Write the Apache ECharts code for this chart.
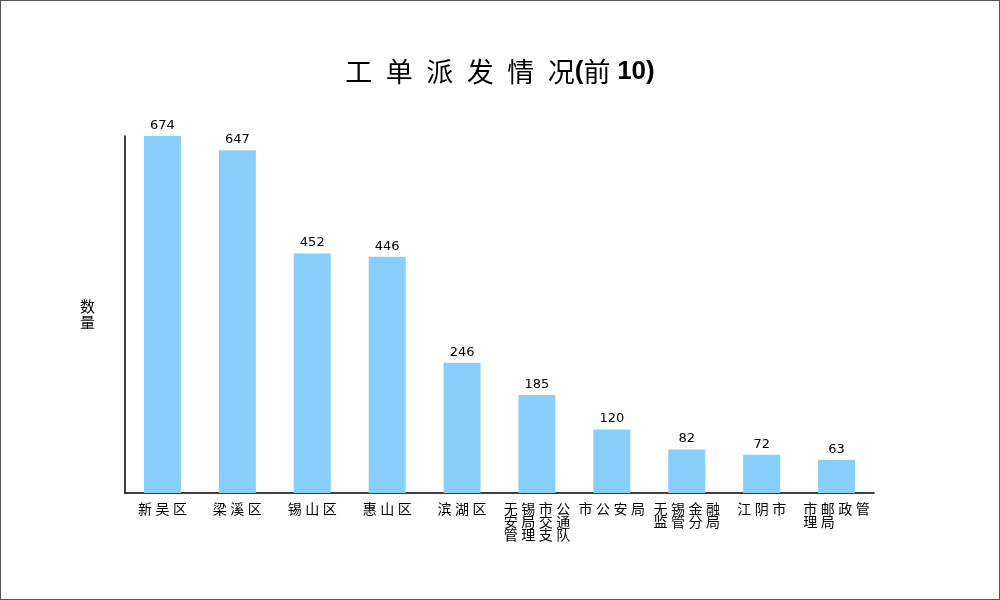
<!DOCTYPE html>
<html>
<head>
<meta charset="utf-8">
<script src="https://cdn.jsdelivr.net/npm/echarts@6/dist/echarts.min.js"></script>
<style>
  html, body { margin: 0; padding: 0; background: #fff; }
  #chart { width: 1000px; height: 600px; box-sizing: border-box; border: 1px solid #555; }
</style>
</head>
<body>
<div id="chart"></div>
<script>
const categories = ["新吴区", "梁溪区", "锡山区", "惠山区", "滨湖区", "无锡市公安局交通管理支队", "市公安局", "无锡金融监管分局", "江阴市", "市邮政管理局"];
const counts = [674, 647, 452, 446, 246, 185, 120, 82, 72, 63];

const GAP = "\u2005";

// 每行4个字，字间加窄空格，末行用空格补齐，保持左对齐的效果
function wrapLabel(text) {
  const lines = [];
  for (let i = 0; i < text.length; i += 4) lines.push(text.slice(i, i + 4).split(""));
  if (lines.length > 1) {
    const last = lines[lines.length - 1];
    while (last.length < 4) last.push("\u3000");
  }
  return lines.map(l => l.join(GAP)).join("\n");
}

const chart = echarts.init(document.getElementById("chart"), null, { renderer: "canvas" });
const font = '"Noto Sans CJK SC", "DejaVu Sans", sans-serif';

chart.setOption({
  animation: false,
  backgroundColor: "#fff",
  title: {
    text: "工\u2002单\u2002派\u2002发\u2002情\u2002况{b|(}前\u2005{b|10)}",
    left: "center",
    top: 52,
    textStyle: {
      fontFamily: font, fontSize: 27, fontWeight: "normal", color: "#000",
      rich: { b: { fontFamily: '"Liberation Sans", sans-serif', fontSize: 26, fontWeight: "bold", color: "#000" } }
    }
  },
  grid: { left: 124, right: 125, top: 135, bottom: 106, containLabel: false },
  xAxis: {
    type: "category",
    data: categories,
    axisLine: { lineStyle: { color: "#000", width: 1.5 } },
    axisTick: { show: false },
    axisLabel: {
      interval: 0,
      color: "#000",
      fontFamily: font,
      fontSize: 14,
      lineHeight: 13,
      margin: 9,
      formatter: wrapLabel
    }
  },
  yAxis: {
    type: "value",
    min: 0,
    max: 674,
    name: "数\n量",
    nameLocation: "middle",
    nameRotate: 0,
    nameGap: 30,
    nameTextStyle: { fontFamily: font, fontSize: 15, color: "#000", lineHeight: 16 },
    axisLine: { show: true, lineStyle: { color: "#000", width: 1.5 } },
    axisTick: { show: false },
    axisLabel: { show: false },
    splitLine: { show: false }
  },
  series: [{
    type: "bar",
    data: counts,
    barWidth: 37,
    itemStyle: { color: "#87CEFA" },
    label: {
      show: true,
      position: "top",
      distance: 4,
      color: "#000",
      fontFamily: '"DejaVu Sans", sans-serif',
      fontSize: 13
    }
  }]
});
</script>
</body>
</html>
